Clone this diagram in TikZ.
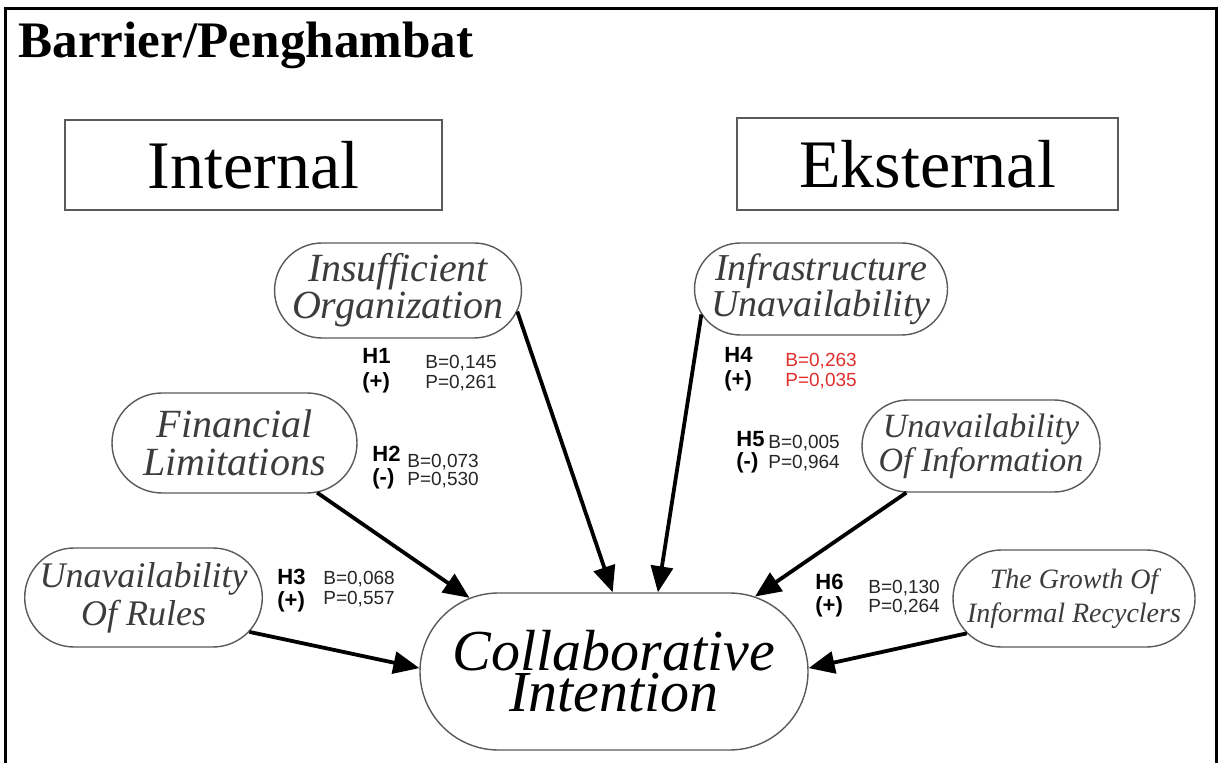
\documentclass[tikz,border=0pt]{standalone}
\usepackage{fontspec}
\setmainfont{Liberation Serif}
\setsansfont{Liberation Sans}
\usetikzlibrary{shapes.misc,arrows.meta}
\definecolor{boxline}{HTML}{5A5A5A}
\definecolor{softtext}{HTML}{3C3C3C}
\definecolor{sigred}{HTML}{E0302E}
\newcommand{\itsz}[2]{\fontsize{#1}{#2}\selectfont\itshape}
\tikzset{
  factor/.style={rounded rectangle, draw=boxline, line width=0.7pt, align=center,
                 text=softtext, inner sep=0pt},
  groupbox/.style={rectangle, draw=boxline, line width=0.8pt, inner sep=0pt,
                   font=\fontsize{34}{40}\selectfont},
  link/.style={line width=1.9pt, -{Triangle[length=13pt,width=11pt]}},
  hyp/.style={anchor=base west, inner sep=0pt, font=\sffamily\bfseries\fontsize{11}{12}\selectfont},
  stat/.style={anchor=base west, inner sep=0pt, text=black!85, font=\sffamily\fontsize{9.5}{11}\selectfont},
}
\begin{document}
\begin{tikzpicture}[x=0.5pt, y=-0.5pt]
\useasboundingbox[fill=white] (0,0) rectangle (1218,763);
% outer frame (open at the bottom)
\draw[line width=1.5pt] (5,763) -- (5,9) -- (1216,9) -- (1216,763);

\node[anchor=base west, inner sep=0pt, font=\bfseries\fontsize{25.6}{30}\selectfont] (title) at (18,58) {Barrier/Penghambat};

% group headings
\node[groupbox, minimum width=188.5pt, minimum height=45pt] (internal) at (253.5,165) {Internal};
\node[groupbox, minimum width=190.5pt, minimum height=46pt] (external) at (927.5,164) {Eksternal};

% barrier factors
\node[factor, minimum width=120pt, minimum height=47.5pt, font=\itsz{20}{18.5}] (ins) at (398,290.5) {Insufficient\\Organization};
\node[factor, minimum width=124pt, minimum height=46pt, font=\itsz{19}{18}] (inf) at (821,289) {Infrastructure\\Unavailability};
\node[factor, minimum width=122.5pt, minimum height=50pt, font=\itsz{20}{19}] (fin) at (234.5,443) {Financial\\Limitations};
\node[factor, minimum width=119pt, minimum height=46pt, font=\itsz{17}{17}] (info) at (981,446) {Unavailability\\Of Information};
\node[factor, minimum width=116.5pt, minimum height=49.5pt, font=\itsz{18}{19}] (rul) at (143.5,597.5) {Unavailability\\Of Rules};
\node[factor, minimum width=121pt, minimum height=48.5pt, font=\itsz{14}{17}] (gro) at (1074,598.5) {The Growth Of\\Informal Recyclers};

% outcome
\node[factor, text=black, minimum width=194pt, minimum height=78.5pt, font=\itsz{29}{17.5}] (col) at (614,671.5) {Collaborative\\Intention};

% hypothesised paths
\draw[link] (ins.-10.5) -- (col.91);
\draw[link] (inf.192.5) -- (col.61);
\draw[link] (fin.-31) -- (col.153);
\draw[link] (info.212) -- (col.28);
\draw[link] (rul.-18) -- (col.179);
\draw[link] (gro.198.5) -- (col.1);

% path labels
\node[hyp] (h1a) at (362,364) {H1};
\node[hyp] (h1b) at (362,389) {(+)};
\node[stat] (h1c) at (425,369) {B=0,145};
\node[stat] (h1d) at (425,389) {P=0,261};

\node[hyp] (h2a) at (372,462) {H2};
\node[hyp] (h2b) at (372,485) {(-)};
\node[stat] (h2c) at (407,467) {B=0,073};
\node[stat] (h2d) at (407,486) {P=0,530};

\node[hyp] (h3a) at (277,584) {H3};
\node[hyp] (h3b) at (277,607) {(+)};
\node[stat] (h3c) at (323,584) {B=0,068};
\node[stat] (h3d) at (323,604) {P=0,557};

\node[hyp] (h4a) at (724,363) {H4};
\node[hyp] (h4b) at (724,387) {(+)};
\node[stat, text=sigred] (h4c) at (785,367) {B=0,263};
\node[stat, text=sigred] (h4d) at (785,387) {P=0,035};

\node[hyp] (h5a) at (736,447) {H5};
\node[hyp] (h5b) at (736,468) {(-)};
\node[stat] (h5c) at (768,449) {B=0,005};
\node[stat] (h5d) at (768,469) {P=0,964};

\node[hyp] (h6a) at (815,589) {H6};
\node[hyp] (h6b) at (815,612) {(+)};
\node[stat] (h6c) at (868,593) {B=0,130};
\node[stat] (h6d) at (868,612) {P=0,264};
\end{tikzpicture}
\end{document}
